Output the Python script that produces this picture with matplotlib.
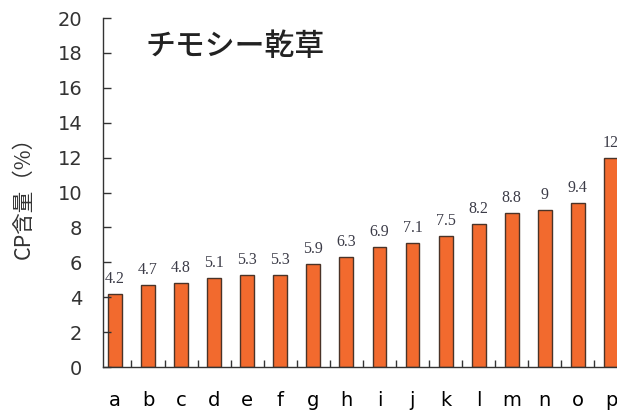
import matplotlib
matplotlib.use("Agg")
import matplotlib.pyplot as plt
import numpy as np

plt.rcParams["font.family"] = ["Noto Sans CJK JP", "DejaVu Sans"]

categories = list("abcdefghijklmnop")
cp_values = [4.2, 4.7, 4.8, 5.1, 5.3, 5.3, 5.9, 6.3, 6.9, 7.1, 7.5, 8.2, 8.8, 9, 9.4, 12]
value_labels = ["4.2", "4.7", "4.8", "5.1", "5.3", "5.3", "5.9", "6.3",
                "6.9", "7.1", "7.5", "8.2", "8.8", "9", "9.4", "12"]
y_ticks = list(range(0, 21, 2))

fig = plt.figure(figsize=(6.17, 4.19), dpi=100)
# the chart is cropped on the right, so the axes runs past the figure edge
ax = fig.add_axes([0.167, 0.124, 0.850, 0.833])

x = np.arange(len(categories))
ax.bar(x, cp_values, width=0.42, color="#f26a2e", edgecolor="#4a3328", linewidth=1.0)

for xi, v, lab in zip(x, cp_values, value_labels):
    ax.text(xi, v + 0.4, lab, ha="center", va="bottom", fontsize=11.5,
            family="Liberation Serif", color="#3c3c48")

ax.set_xlim(-0.36, 15.5)
ax.set_ylim(0, 20)
ax.set_yticks(y_ticks)
ax.set_xticks(x)
ax.set_xticklabels(categories, fontsize=14, family="DejaVu Sans")
ax.set_xticks(x[:-1] + 0.5, minor=True)
ax.tick_params(axis="x", which="major", length=0, pad=17.5)
ax.tick_params(axis="x", which="minor", direction="in", length=5, width=1, color="#333333")
ax.tick_params(axis="y", direction="in", length=6, width=1, color="#333333",
               labelsize=14, pad=15)
for lab in ax.get_yticklabels():
    lab.set_family("DejaVu Sans")
    lab.set_color("#333333")

for side in ("top", "right"):
    ax.spines[side].set_visible(False)
for side in ("left", "bottom"):
    ax.spines[side].set_color("#333333")
    ax.spines[side].set_linewidth(1.0)

ax.set_ylabel("CP含量（%）", fontsize=15.5, color="#333333")
ax.yaxis.set_label_coords(-0.13, 0.5)
fig.text(235 / 617, 1 - 46 / 419, "チモシー乾草", fontsize=21.5, ha="center", va="center",
         color="#222222", fontweight="medium")

fig.savefig("out.png", dpi=100)
